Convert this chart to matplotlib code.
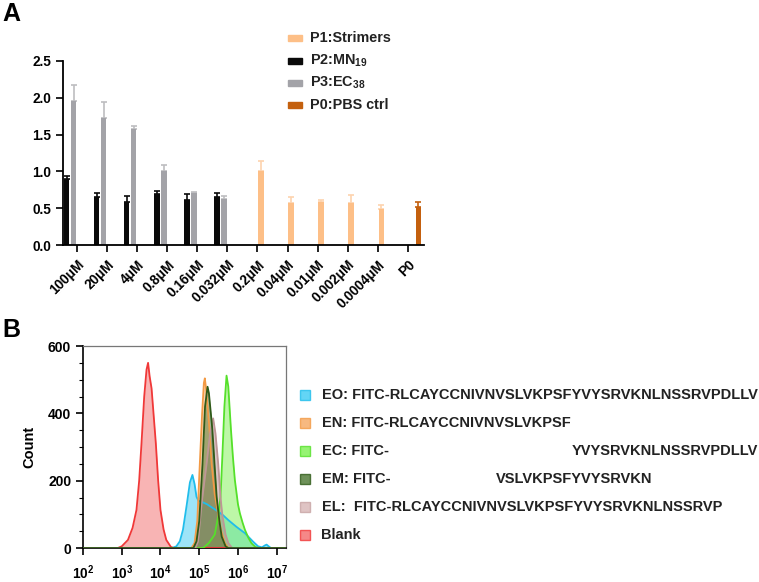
#!/usr/bin/env python3
"""Two-panel figure: A = grouped bar chart, B = flow-cytometry overlay histograms."""
import matplotlib
matplotlib.use("Agg")
import matplotlib.pyplot as plt
import matplotlib.transforms as mtrans
import numpy as np
from matplotlib.patches import Rectangle

plt.rcParams["font.family"] = ["Liberation Sans", "DejaVu Sans"]
plt.rcParams["font.weight"] = "bold"
plt.rcParams["mathtext.fontset"] = "custom"
plt.rcParams["mathtext.rm"] = "Liberation Sans:bold"
plt.rcParams["mathtext.bf"] = "Liberation Sans:bold"

W, H = 759, 582

# ---- panel A data ----
CATS = ["100μM", "20μM", "4μM", "0.8μM", "0.16μM", "0.032μM",
        "0.2μM", "0.04μM", "0.01μM", "0.002μM", "0.0004μM", "P0"]
P2_IDX = [0, 1, 2, 3, 4, 5]
P2_VAL = [0.89, 0.655, 0.58, 0.687, 0.61, 0.655]
P2_ERR = [0.05, 0.05, 0.085, 0.053, 0.08, 0.05]
P3_IDX = [0, 1, 2, 3, 4, 5]
P3_VAL = [1.955, 1.73, 1.575, 1.01, 0.70, 0.62]
P3_ERR = [0.225, 0.215, 0.04, 0.08, 0.015, 0.045]
P1_IDX = [6, 7, 8, 9, 10]
P1_VAL = [1.01, 0.57, 0.59, 0.57, 0.49]
P1_ERR = [0.135, 0.085, 0.02, 0.11, 0.05]
P0_IDX = [11]
P0_VAL = [0.52]
P0_ERR = [0.07]
LEG_A = ["P1:Strimers", r"P2:MN$_{\mathbf{19}}$", r"P3:EC$_{\mathbf{38}}$", "P0:PBS ctrl"]

# ---- panel B data (log10 fluorescence, count) ----
BLANK_X = [2.0, 2.9, 3.0, 3.16, 3.28, 3.38, 3.45, 3.51, 3.58, 3.64, 3.68, 3.72, 3.77,
           3.82, 3.88, 3.94, 4.0, 4.08, 4.15, 4.27, 4.35, 7.24]
BLANK_Y = [0, 0, 5, 24, 60, 113, 200, 311, 450, 530, 550, 510, 474,
           400, 311, 200, 113, 55, 24, 3, 0, 0]
EO_X = [2.0, 4.3, 4.41, 4.5, 4.58, 4.68, 4.76, 4.825, 4.88, 4.93, 4.98, 5.05, 5.2, 5.36,
        5.49, 5.62, 5.75, 5.96, 6.18, 6.39, 6.52, 6.62, 6.7, 6.74, 6.78, 6.85, 7.24]
EO_Y = [0, 0, 5, 20, 54, 130, 195, 217, 190, 152, 140, 138, 130, 118,
        108, 97, 83, 63, 44, 19, 5, 2, 8, 10, 6, 0, 0]
EN_X = [2.0, 4.8, 4.88, 4.95, 5.015, 5.075, 5.12, 5.145, 5.18, 5.2, 5.26, 5.32, 5.4,
        5.49, 5.57, 5.66, 5.75, 7.24]
EN_Y = [0, 0, 15, 80, 250, 400, 490, 504, 470, 440, 360, 250, 160,
        100, 50, 15, 0, 0]
EC_X = [2.0, 5.1, 5.25, 5.4, 5.5, 5.55, 5.6, 5.65, 5.705, 5.75, 5.82, 5.87, 5.92,
        6.0, 6.05, 6.12, 6.18, 6.27, 6.35, 6.45, 6.55, 7.24]
EC_Y = [0, 0, 15, 40, 100, 152, 280, 420, 512, 480, 350, 270, 202,
        130, 103, 75, 54, 30, 14, 3, 0, 0]
EM_X = [2.0, 4.85, 4.93, 5.0, 5.085, 5.15, 5.215, 5.25, 5.3, 5.34, 5.4, 5.45, 5.52,
        5.58, 5.68, 5.75, 7.24]
EM_Y = [0, 0, 20, 80, 250, 420, 479, 460, 400, 350, 240, 152, 80,
        34, 5, 0, 0]
EL_X = [2.0, 4.9, 4.97, 5.06, 5.19, 5.28, 5.36, 5.42, 5.49, 5.55, 5.6, 5.68, 5.75,
        5.85, 7.24]
EL_Y = [0, 0, 20, 130, 250, 340, 385, 340, 250, 150, 95, 40, 15,
        0, 0]
LEG_B = ["EO: FITC-RLCAYCCNIVNVSLVKPSFYVYSRVKNLNSSRVPDLLV",
         "EN: FITC-RLCAYCCNIVNVSLVKPSF",
         "EC: FITC-",
         "EM: FITC-",
         "EL:  FITC-RLCAYCCNIVNVSLVKPSFYVYSRVKNLNSSRVP",
         "Blank"]
EC_TAIL = "YVYSRVKNLNSSRVPDLLV"
EM_TAIL = "VSLVKPSFYVYSRVKN"

C_P1, C_P2, C_P3, C_P0 = "#FDBF87", "#0A0A0A", "#A3A3A8", "#C4600E"
HIST = [  # (x, y, edge, fill)
    (BLANK_X, BLANK_Y, "#F03838", "#F36A6A"),
    (EO_X, EO_Y, "#20BDEB", "#3CCBF3"),
    (EC_X, EC_Y, "#55E02A", "#7CF050"),
    (EN_X, EN_Y, "#F39A45", "#F5A860"),
    (EL_X, EL_Y, "#BE9696", "#B98C8C"),
    (EM_X, EM_Y, "#2F5A18", "#4A7630"),
]
LEG_B_COL = ["#3CCBF3", "#F5A860", "#7CF050", "#4A7630", "#D8B6B6", "#F36A6A"]
LEG_B_EDGE = ["#20BDEB", "#F39A45", "#55E02A", "#2F5A18", "#C8A4A4", "#F03838"]
FS_LEG = 10.5


def px(x, y):
    return x / W, 1 - y / H


def fig_rect(fig, x0, y0, w, h, fc, ec=None, alpha=1.0, lw=1.0):
    fx, fy = px(x0, y0 + h)
    fig.add_artist(Rectangle((fx, fy), w / W, h / H, transform=fig.transFigure,
                             facecolor=fc, edgecolor=ec if ec else fc, alpha=alpha, lw=lw))


def panel_a(fig):
    l, t, r, b = 63, 61, 424, 245
    ax = fig.add_axes([l / W, 1 - b / H, (r - l) / W, (b - t) / H])
    off, bw = 0.233, 0.18
    for idx, val, err, dx, col, ecol in [
        (P2_IDX, P2_VAL, P2_ERR, -1.5 * off, C_P2, C_P2),
        (P3_IDX, P3_VAL, P3_ERR, -0.5 * off, C_P3, "#BDBDC0"),
        (P1_IDX, P1_VAL, P1_ERR, 0.5 * off, C_P1, "#FDD3AE"),
        (P0_IDX, P0_VAL, P0_ERR, 1.5 * off, C_P0, C_P0),
    ]:
        xs = np.array(idx) + dx
        ax.bar(xs, val, width=bw, color=col, zorder=2)
        ax.errorbar(xs, val, yerr=[np.zeros(len(val)), err], fmt="none",
                    ecolor=ecol, elinewidth=1.2, capsize=2, capthick=1.2, zorder=1)
    ax.set_xlim(-0.47, 11.54)
    ax.set_ylim(0, 2.5)
    ax.set_yticks([0, 0.5, 1.0, 1.5, 2.0, 2.5])
    ax.set_yticklabels(["0.0", "0.5", "1.0", "1.5", "2.0", "2.5"])
    ax.set_xticks(range(len(CATS)))
    ax.set_xticklabels(CATS, rotation=45, ha="right", va="top", rotation_mode="anchor")
    shift = mtrans.ScaledTranslation(6 / 100, 0, fig.dpi_scale_trans)
    for lab in ax.get_xticklabels():
        lab.set_transform(lab.get_transform() + shift)
    ax.tick_params(axis="both", labelsize=9.8, width=1.3, length=5, color="#111")
    ax.tick_params(axis="x", pad=4)
    for s in ("top", "right"):
        ax.spines[s].set_visible(False)
    for s in ("left", "bottom"):
        ax.spines[s].set_linewidth(1.3)
    # legend
    for i, (lab, col) in enumerate(zip(LEG_A, [C_P1, C_P2, C_P3, C_P0])):
        yc = 38.3 + i * 22.3
        fig_rect(fig, 288, yc - 3, 14, 6, col)
        fig.text(*px(310, yc), lab, fontsize=10.4, fontweight="bold", va="center", color="#222")
    fig.text(*px(2, 14), "A", fontsize=18, fontweight="bold", va="center", ha="left")


def panel_b(fig):
    l, t, r, b = 83, 346, 286, 548
    ax = fig.add_axes([l / W, 1 - b / H, (r - l) / W, (b - t) / H])
    for xs, ys, ec, fc in HIST:
        xv = 10 ** np.array(xs)
        ax.fill_between(xv, ys, color=fc, alpha=0.5, lw=0, zorder=2)
        ax.plot(xv, ys, color=ec, lw=1.3, zorder=3)
    ax.set_xscale("log")
    ax.set_xlim(10 ** 2.0, 10 ** 7.24)
    ax.set_ylim(0, 600)
    ax.set_yticks([0, 200, 400, 600])
    ax.set_yticks(np.arange(0, 601, 50), minor=True)
    ax.set_xticks([10 ** k for k in range(2, 8)])
    ax.set_xticklabels([r"$\mathbf{10^{%d}}$" % k for k in range(2, 8)])
    ax.tick_params(axis="both", which="major", labelsize=10, width=1.2, length=5)
    ax.tick_params(axis="x", which="major", labelsize=9.8, pad=6)
    ax.tick_params(axis="y", which="minor", length=3, width=0.8)
    ax.tick_params(axis="x", which="minor", length=2.5, width=0.7)
    ax.set_ylabel("Count", fontsize=10.5, fontweight="bold", labelpad=8)
    for s in ("top", "right"):
        ax.spines[s].set_color("#777")
        ax.spines[s].set_linewidth(0.9)
    for s in ("left", "bottom"):
        ax.spines[s].set_linewidth(1.2)
    # legend
    for i, (lab, fc, ec) in enumerate(zip(LEG_B, LEG_B_COL, LEG_B_EDGE)):
        yc = 395 + i * 28
        fig_rect(fig, 300, yc - 5, 10, 10, fc, ec, alpha=0.8, lw=1.0)
        fig.text(*px(321.5, yc), lab, fontsize=FS_LEG, fontweight="bold", va="center", color="#222")
    fig.text(*px(571.5, 395 + 2 * 28), EC_TAIL, fontsize=FS_LEG, fontweight="bold", va="center", color="#222")
    fig.text(*px(496, 395 + 3 * 28), EM_TAIL, fontsize=FS_LEG, fontweight="bold", va="center", color="#222")
    fig.text(*px(2, 330), "B", fontsize=18, fontweight="bold", va="center", ha="left")


def main():
    fig = plt.figure(figsize=(W / 100, H / 100), dpi=100)
    panel_a(fig)
    panel_b(fig)
    fig.savefig("out.png", dpi=100)
    plt.close(fig)


if __name__ == "__main__":
    main()
